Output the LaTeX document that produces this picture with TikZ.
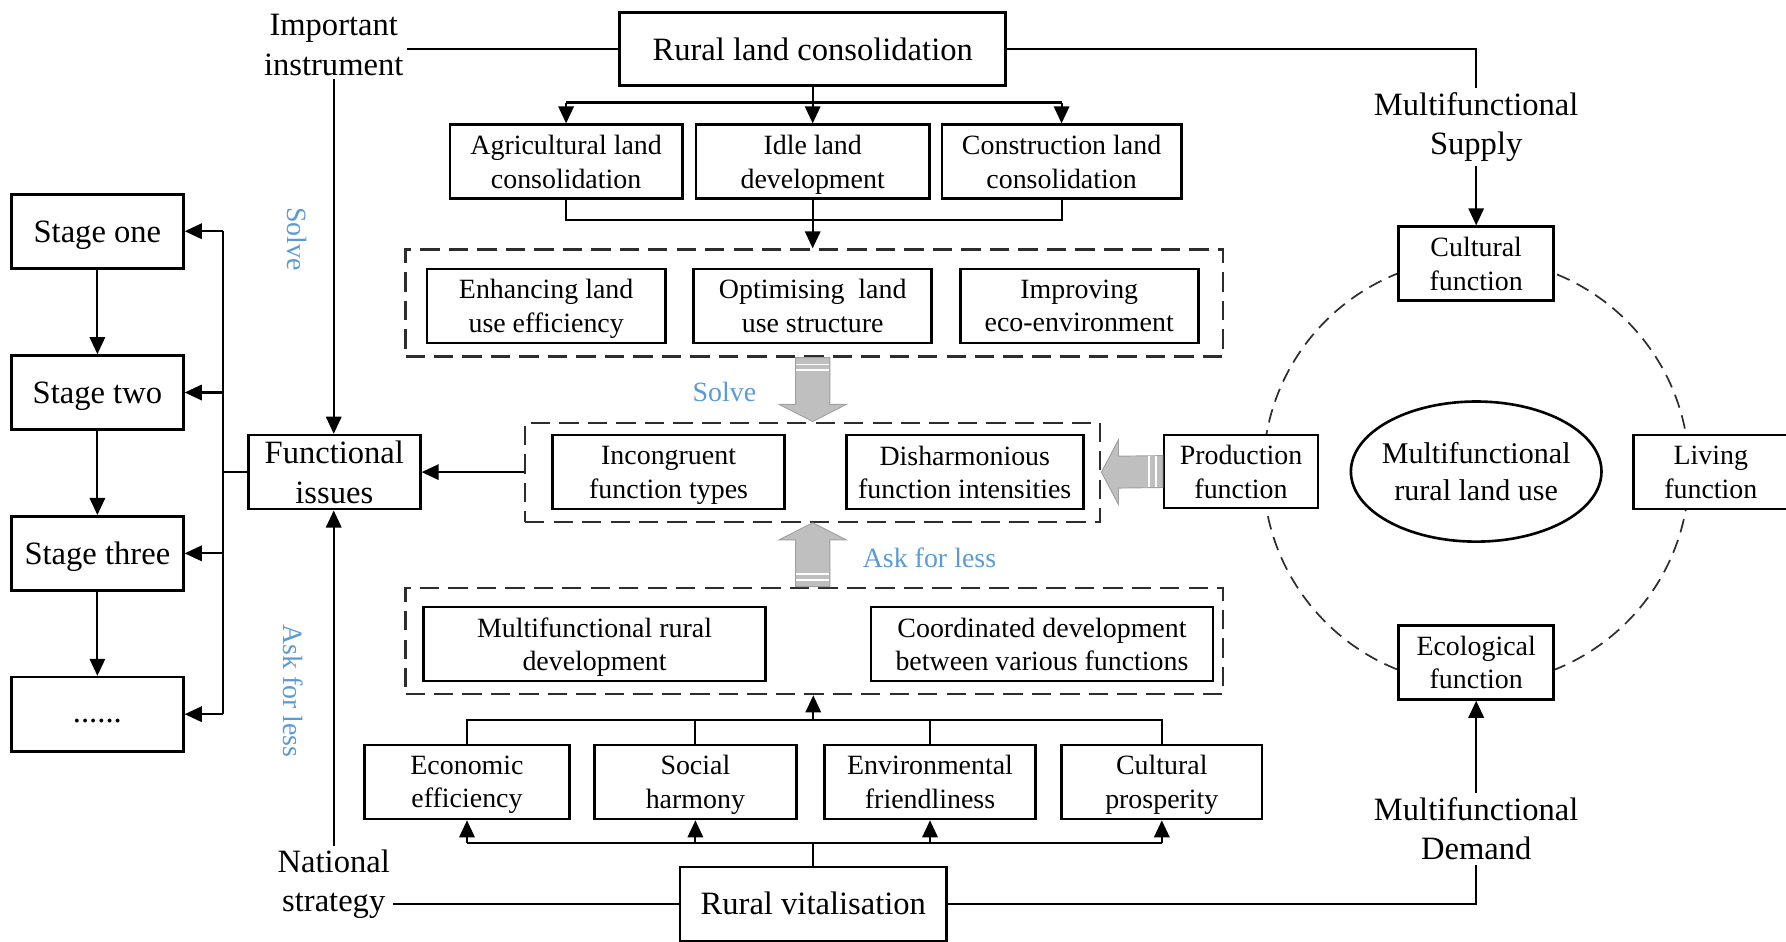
\documentclass[tikz,border=0pt]{standalone}
\usepackage{fontspec}
\setmainfont{Liberation Serif}
\usetikzlibrary{arrows.meta,shapes.geometric,calc}

\newcommand{\txtbig}{\fontsize{28.6}{34.5}\selectfont}
\newcommand{\txtsmall}{\fontsize{24.5}{29.5}\selectfont}
\newcommand{\txtmid}{\fontsize{26.4}{32}\selectfont}
% last line of a two-line label: no depth, so every box centres its text alike
\newcommand{\low}[1]{\smash{#1}}

\definecolor{noteblue}{RGB}{91,155,213}
\definecolor{fatfill}{RGB}{191,191,191}
\definecolor{fatedge}{RGB}{160,160,160}
\definecolor{dashgray}{RGB}{45,45,45}

\begin{document}
\begin{tikzpicture}[x=1pt,y=-1pt,
  box/.style={draw, line width=2.3pt, fill=white, inner sep=0pt, align=center, minimum height=65pt},
  bigbox/.style={box, font=\txtbig},
  smallbox/.style={box, font=\txtsmall},
  group/.style={draw=dashgray, line width=1.9pt, dash pattern=on 17pt off 8pt, inner sep=0pt},
  link/.style={line width=1.9pt},
  arr/.style={link, -{Triangle[length=15pt,width=13.5pt]}},
  label/.style={inner sep=3pt, align=center, font=\txtbig},
  note/.style={text=noteblue, font=\txtsmall, inner sep=0pt},
  fat/.style={fill=fatfill, draw=fatedge, line width=0.8pt},
  stripe/.style={draw=white, line width=1.3pt},
]

\useasboundingbox (0,0) rectangle (1568,827);

% ---------- multifunctional ring (drawn first, boxes sit on top) ----------
\coordinate (hub) at (1296,414);
\draw[draw=dashgray, line width=1.5pt, dash pattern=on 12pt off 7pt] (hub) circle[radius=187pt];

% ---------- dashed groups ----------
\node[group, minimum width=718pt, minimum height=94pt] (g1) at (715,266) {};
\node[group, minimum width=505pt, minimum height=87pt] (g2) at (713.5,414.5) {};
\node[group, minimum width=718pt, minimum height=93.5pt] (g3) at (715,562.75) {};

% ---------- top: rural land consolidation ----------
\node[bigbox, minimum width=339pt, minimum height=64pt] (rlc) at (713.5,43) {Rural land consolidation};
\node[smallbox, minimum width=204pt] (agri) at (497,142) {Agricultural land\\\low{consolidation}};
\node[smallbox, minimum width=205pt] (idle) at (713.5,142) {Idle land\\\low{development}};
\node[smallbox, minimum width=210pt] (cons) at (932,142) {Construction land\\\low{consolidation}};

\node[smallbox, minimum width=209pt] (enh) at (479.5,268.5) {Enhancing land\\\low{use efficiency}};
\node[smallbox, minimum width=209pt] (opt) at (713.5,268.5) {Optimising\ \ land\\\low{use structure}};
\node[smallbox, minimum width=209pt] (impr) at (947.5,268.5) {Improving\\\low{eco-environment}};

% ---------- middle: functional issues ----------
\node[smallbox, minimum width=204pt] (inc) at (587,414.5) {Incongruent\\\low{function types}};
\node[smallbox, minimum width=208pt] (dis) at (847,414.5) {Disharmonious\\\low{function intensities}};
\node[bigbox, minimum width=151pt] (fi) at (293.5,414.5) {Functional\\\low{issues}};

% ---------- stages ----------
\node[bigbox, minimum width=151pt, text depth=0pt] (s1) at (85.5,203) {Stage one};
\node[bigbox, minimum width=151pt, text depth=0pt] (s2) at (85.5,344.6) {Stage two};
\node[bigbox, minimum width=151pt, text depth=0pt] (s3) at (85.5,485.8) {Stage three};
\node[bigbox, minimum width=151pt] (s4) at (85.5,627) {\strut......};

% ---------- bottom: rural vitalisation ----------
\node[smallbox, minimum width=300pt] (mrd) at (522,565.5) {Multifunctional rural\\\low{development}};
\node[smallbox, minimum width=300pt] (coord) at (914.8,565.5) {Coordinated development\\\low{between various functions}};
\node[smallbox, minimum width=180pt] (econ) at (410,686.5) {Economic\\\low{efficiency}};
\node[smallbox, minimum width=177pt] (soc) at (610.5,686.5) {Social\\\low{harmony}};
\node[smallbox, minimum width=185pt] (env) at (816.5,686.5) {Environmental\\\low{friendliness}};
\node[smallbox, minimum width=176pt] (cultp) at (1020,686.5) {Cultural\\\low{prosperity}};
\node[bigbox, minimum width=234pt] (rv) at (714,793.5) {Rural vitalisation};

% ---------- ring of functions ----------
\node[draw, ellipse, line width=2.3pt, fill=white, minimum width=220pt, minimum height=123pt,
      inner sep=0pt] (mrlu) at (hub) {};
\node[align=center, font=\txtmid, inner sep=0pt] (mrlutext) at (mrlu.center) {Multifunctional\\\low{rural land use}};
\node[smallbox, minimum width=136pt] (cultf) at (1296,231.5) {Cultural\\\low{function}};
\node[smallbox, minimum width=136pt] (ecof) at (1296,581.5) {Ecological\\\low{function}};
\node[smallbox, minimum width=135pt, minimum height=64pt] (prod) at (1089.5,414) {Production\\\low{function}};
\node[smallbox, minimum width=136pt] (living) at (1502,414.5) {Living\\\low{function}};

% ---------- free labels ----------
\node[label] (instr) at (293,39.5) {Important\\instrument};
\node[label] (natl) at (293,776) {National\\strategy};
\node[label, inner sep=4pt] (supply) at (1296,111.5) {Multifunctional\\Supply};
\node[label, inner sep=4pt] (demand) at (1296,727.8) {Multifunctional\\Demand};

\node[note, rotate=-90] (solvev) at (261,210) {Solve};
\node[note, rotate=-90] (askv) at (257,606.5) {Ask for less};
\node[note] (solveh) at (636,344) {Solve};
\node[note] (askh) at (816,490) {Ask for less};

% ---------- connectors: consolidation tree ----------
\coordinate (split) at (713.5,90);
\draw[link] (rlc.south) -- (split);
\draw[link] (agri.north |- split) -- (cons.north |- split);
\foreach \n in {agri,idle,cons} \draw[arr] (\n.north |- split) -- (\n.north);
\coordinate (merge) at (713.5,193);
\draw[link] (agri.south) -- (agri.south |- merge) -- (cons.south |- merge) -- (cons.south);
\draw[link] (idle.south) -- (merge);
\draw[arr] (merge) -- (merge |- g1.north);

% ---------- connectors: functional issues ----------
\draw[link] (instr.east |- rlc.west) -- (rlc.west);
\draw[arr] (instr.south) -- (instr.south |- fi.north);
\draw[arr] (natl.north) -- (natl.north |- fi.south);
\draw[link] (natl.east |- rv.west) -- (rv.west);
\draw[arr] (g2.west) -- (fi.west -| fi.east);

\coordinate (bus) at (196,414.5);
\draw[link] (fi.west) -- (bus);
\draw[link] (bus |- s1.east) -- (bus |- s4.east);
\foreach \n in {s1,s2,s3,s4} \draw[arr] (bus |- \n.east) -- (\n.east);
\draw[arr] (s1.south) -- (s2.north);
\draw[arr] (s2.south) -- (s3.north);
\draw[arr] (s3.south) -- (s4.north);

% ---------- connectors: vitalisation tree ----------
\coordinate (gather) at (714,632);
\draw[link] (econ.north) -- (econ.north |- gather) -- (cultp.north |- gather) -- (cultp.north);
\draw[link] (soc.north) -- (soc.north |- gather);
\draw[link] (env.north) -- (env.north |- gather);
\draw[arr] (gather) -- (gather |- g3.south);
\coordinate (spread) at (714,740);
\draw[link] (rv.north) -- (spread);
\draw[link] (econ.south |- spread) -- (cultp.south |- spread);
\foreach \n in {econ,soc,env,cultp} \draw[arr] (\n.south |- spread) -- (\n.south);

% ---------- connectors: supply and demand ----------
\draw[link] (rlc.east) -| (supply.north);
\draw[arr] (supply.south) -- (cultf.north);
\draw[arr] (demand.north) -- (ecof.south);
\draw[link] (demand.south) |- (rv.east);

% ---------- broad grey arrows ----------
\path (idle.south |- g1.south) coordinate (fa1) (idle.south |- g2.north) coordinate (fa1t);
\draw[fat] ($(fa1)+(-15,0)$) -- ($(fa1t)+(-15,-15)$) -- ($(fa1t)+(-29.5,-15)$) -- (fa1t)
  -- ($(fa1t)+(29.5,-15)$) -- ($(fa1t)+(15,-15)$) -- ($(fa1)+(15,0)$) -- cycle;
\draw[stripe] ($(fa1)+(-14.5,6)$) -- ($(fa1)+(14.5,6)$);
\draw[stripe] ($(fa1)+(-14.5,11)$) -- ($(fa1)+(14.5,11)$);

\path (idle.south |- g3.north) coordinate (fa2) (idle.south |- g2.south) coordinate (fa2t);
\draw[fat] ($(fa2)+(-15,0)$) -- ($(fa2t)+(-15,15)$) -- ($(fa2t)+(-29.5,15)$) -- (fa2t)
  -- ($(fa2t)+(29.5,15)$) -- ($(fa2t)+(15,15)$) -- ($(fa2)+(15,0)$) -- cycle;
\draw[stripe] ($(fa2)+(-14.5,-6)$) -- ($(fa2)+(14.5,-6)$);
\draw[stripe] ($(fa2)+(-14.5,-11)$) -- ($(fa2)+(14.5,-11)$);

\path (prod.west) coordinate (fa3) (g2.east) coordinate (fa3t);
\draw[fat] ($(fa3)+(0,-14)$) -- ($(fa3t)+(15,-14)$) -- ($(fa3t)+(15,-28.5)$) -- (fa3t)
  -- ($(fa3t)+(15,28.5)$) -- ($(fa3t)+(15,14)$) -- ($(fa3)+(0,14)$) -- cycle;
\draw[stripe] ($(fa3)+(-6,-13.5)$) -- ($(fa3)+(-6,13.5)$);
\draw[stripe] ($(fa3)+(-12,-13.5)$) -- ($(fa3)+(-12,13.5)$);

\end{tikzpicture}
\end{document}
